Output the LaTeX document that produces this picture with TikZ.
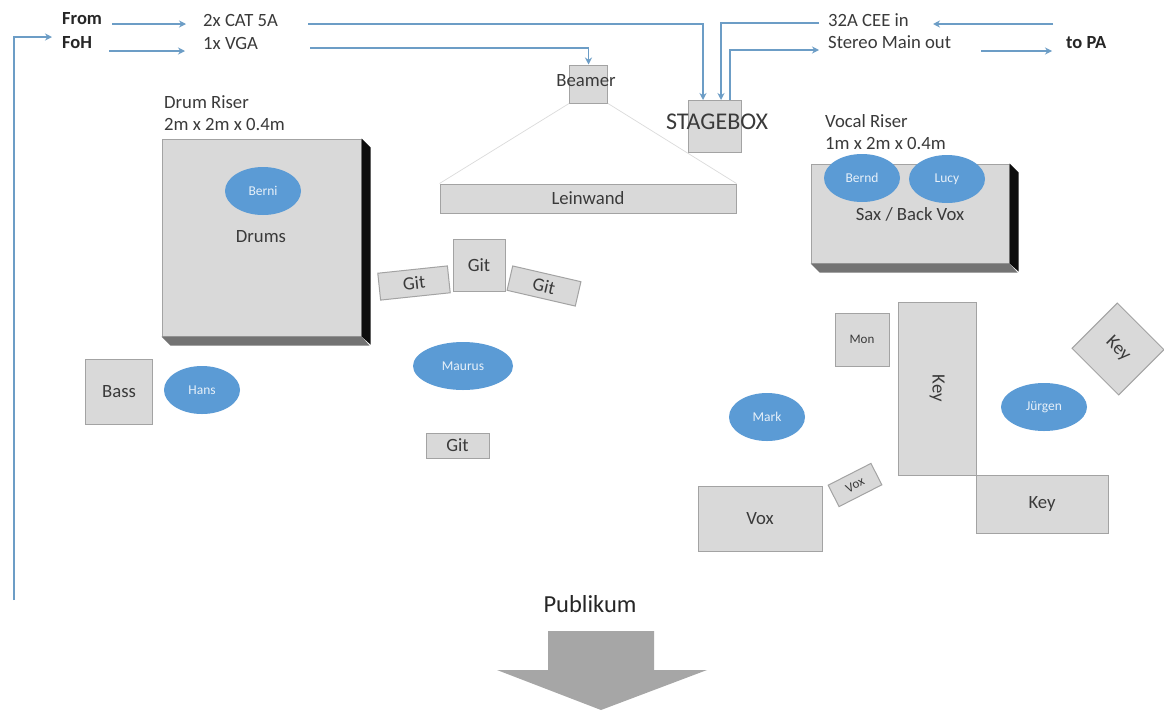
\documentclass[tikz,border=0pt]{standalone}
\usepackage{fontspec}
\setmainfont{Carlito}
\usepackage{tikz}
\usetikzlibrary{positioning,arrows.meta,shapes.geometric}
\definecolor{boxfill}{HTML}{D9D9D9}
\definecolor{boxline}{HTML}{A3A3A3}
\definecolor{linkblue}{HTML}{6C9DC6}
\definecolor{headblue}{HTML}{5B9BD5}
\definecolor{inktext}{HTML}{3A3A3A}
\newcommand{\sz}[1]{\fontsize{#1}{#1}\selectfont}

\begin{document}
\begin{tikzpicture}
    [ x = 1pt, y = -1pt
    , txt/.style =
      { inner sep=0pt, text=inktext, font=\sz{18.7} }
    , lefttxt/.style =
      { txt, anchor=west }
    , boldtxt/.style =
      { lefttxt, text=black!85, font=\sz{18.5}\bfseries }
    , box/.style =
      { draw=boxline, fill=boxfill, line width=1pt, inner sep=0pt, text=inktext, font=\sz{18.7} }
    , head/.style =
      { ellipse, fill=headblue, inner sep=0pt, text=white!85!headblue, font=\sz{13.5},
        minimum width=76pt, minimum height=48pt }
    , link/.style =
      { draw=linkblue, line width=1.2pt, -{Stealth[length=7pt,width=7pt]} }
    , beam/.style =
      { draw=black!14, line width=.7pt }
    ]
    \useasboundingbox [fill=white] (0,0) rectangle (1164,710);

    % risers
    \node [box, minimum width=199pt, minimum height=197pt] (drumriser) at (261.5,237.5) {};
    \fill [black!95] (drumriser.north east) -- ++(9,9) -- ++(0,197) -- (drumriser.south east) -- cycle;
    \fill [black!55] (drumriser.south west) -- ++(9,9) -- ++(199,0) -- (drumriser.south east) -- cycle;
    \node [box, minimum width=198pt, minimum height=99pt] (vocalriser) at (910,213.5) {};
    \fill [black!95] (vocalriser.north east) -- ++(9,9) -- ++(0,99) -- (vocalriser.south east) -- cycle;
    \fill [black!55] (vocalriser.south west) -- ++(9,9) -- ++(198,0) -- (vocalriser.south east) -- cycle;

    % text top row
    \node [boldtxt] (from) at (62,19) {From};
    \node [boldtxt] (foh) at (62,43) {FoH};
    \node [lefttxt] (cat) at (203,20) {2x CAT 5A};
    \node [lefttxt] (vga) at (203,43) {1x VGA};
    \node [lefttxt] (cee) at (828,20) {32A CEE in};
    \node [lefttxt] (main) at (828,42) {Stereo Main out};
    \node [boldtxt] (pa) at (1066,43) {to PA};
    \node [lefttxt] (drumlabel) at (164,102) {Drum Riser};
    \node [lefttxt] (drumsize) at (164,125) {2m x 2m x 0.4m};
    \node [lefttxt] (vocallabel) at (825,121) {Vocal Riser};
    \node [lefttxt] (vocalsize) at (825,144) {1m x 2m x 0.4m};

    % gear
    \node [box, minimum width=38pt, minimum height=38pt] (beamer) at (588.5,84) {};
    \node [txt] (beamertxt) at (586,81) {Beamer};
    \node [box, minimum width=53pt, minimum height=52pt] (stagebox) at (715,126) {};
    \node [txt, font=\sz{24}] (stagetxt) at (717,122) {STAGEBOX};
    \node [box, minimum width=296pt, minimum height=29pt] (screen) at (588,198.5) {Leinwand};
    \node [box, minimum width=52pt, minimum height=52pt] (gitmid) at (479,265) {Git};
    \node [box, minimum width=70pt, minimum height=27pt, rotate=6] (gitleft) at (414,283) {Git};
    \node [box, minimum width=70pt, minimum height=25pt, rotate=-13] (gitright) at (544,286) {Git};
    \node [box, minimum width=63pt, minimum height=25pt] (gitlow) at (457.5,445.5) {Git};
    \node [box, minimum width=67pt, minimum height=65pt] (bass) at (119,391.5) {Bass};
    \node [box, minimum width=54pt, minimum height=53pt, font=\sz{13}] (mon) at (862,339.5) {Mon};
    \node [box, minimum width=78pt, minimum height=173pt] (keytall) at (937,388.5) {\rotatebox{-90}{Key}};
    \node [box, minimum width=132pt, minimum height=58pt] (keylow) at (1042,504) {\raisebox{-2pt}{Key}};
    \node [box, minimum width=66pt, minimum height=64pt, rotate=-45] (keytilt) at (1118,349) {Key};
    \node [box, minimum width=124pt, minimum height=65pt] (voxbig) at (760,518.5) {Vox};
    \node [box, minimum width=48pt, minimum height=24pt, rotate=27, font=\sz{13}] (voxsmall) at (855,485) {Vox};

    % people
    \node [head] (berni) at (263,191) {Berni};
    \node [head] (hans) at (202,390) {Hans};
    \node [head, minimum width=100pt] (maurus) at (463,366) {Maurus};
    \node [head] (mark) at (767,417) {Mark};
    \node [head, minimum width=86pt] (juergen) at (1044,407) {Jürgen};
    \node [head] (bernd) at (862,178) {Bernd};
    \node [head] (lucy) at (947,179) {Lucy};
    \node [txt] (drums) at (261,237) {Drums};
    \node [txt] (sax) at (910,214) {Sax / Back Vox};

    % beamer throw
    \draw [beam] (beamer.south west) -- (screen.north west);
    \draw [beam] (beamer.south east) -- (screen.north east);

    % free ends
    \coordinate (fromout) at (112,24);
    \coordinate (catin) at (186,24);
    \coordinate (fohout) at (109,51);
    \coordinate (vgain) at (185,51);
    \coordinate (catout) at (308,24);
    \coordinate (vgaout) at (310,48);
    \coordinate (catdrop) at (703,100);
    \coordinate (ceedrop) at (721,100);
    \coordinate (mainrise) at (730,100);
    \coordinate (ceeout) at (819,23);
    \coordinate (mainin) at (819,50);
    \coordinate (cable) at (14,600);
    \coordinate (fohin) at (52,37);
    \coordinate (pasource) at (1053,24);
    \coordinate (ceein) at (933,24);
    \coordinate (paout) at (981,51);
    \coordinate (pain) at (1052,51);

    % signal runs
    \draw [link] (fromout) -- (catin);
    \draw [link] (fohout) -- (vgain);
    \draw [link] (cable) |- (fohin);
    \draw [link] (catout) -| (catdrop);
    \draw [link] (vgaout) -| (beamer.north);
    \draw [link] (ceeout) -| (ceedrop);
    \draw [link] (mainrise) |- (mainin);
    \draw [link] (pasource) -- (ceein);
    \draw [link] (paout) -- (pain);

    % audience
    \node [txt, font=\sz{24.5}, text=black!85] (publikum) at (590,604) {Publikum};
    \fill [black!35] (548,631) -- (654,631) -- (654,670) -- (707,670) -- (601,710) -- (497,670) -- (548,670) -- cycle;
\end{tikzpicture}
\end{document}
